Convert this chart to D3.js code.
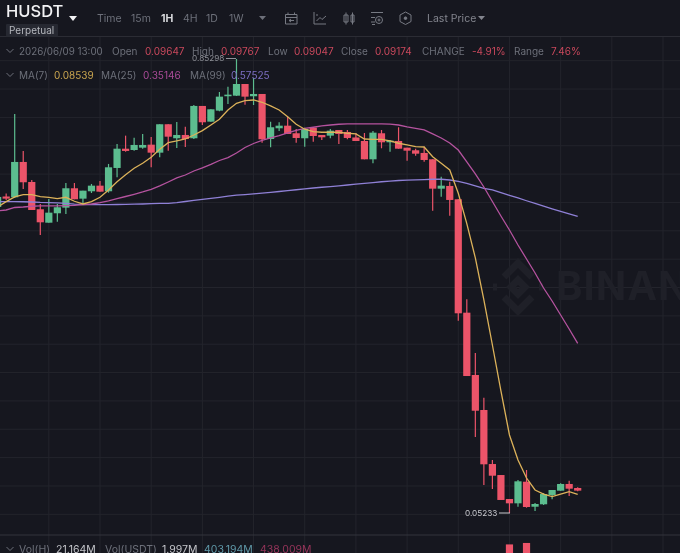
<!DOCTYPE html>
<html>
<head>
<meta charset="utf-8">
<script src="https://cdn.jsdelivr.net/npm/d3@7/dist/d3.min.js"></script>
<style>
html, body { margin: 0; padding: 0; background: #16171f; overflow: hidden; }
svg { display: block; font-family: Inter, "Noto Sans", sans-serif; filter: blur(0.4px); }
</style>
</head>
<body>
<svg id="chart" width="680" height="553"></svg>
<script>
// hourly candles, first two are cut by the left edge
var opens = [.5920,.6105,.6091,.6714,.6361,.5880,.5643,.5809,.5908,.6250,.6067,.6197,.6296,.6197,.6608,.6948,.6925,.6966,.7019,.6878,.7379,.7132,.7190,.7132,.7702,.7425,.7619,.7873,.7883,.8089,.7873,.7913,.7119,.7308,.7354,.7220,.7132,.7319,.7190,.7178,.7278,.7243,.7146,.7084,.6761,.7220,.7061,.7084,.6966,.6920,.6873,.6761,.6243,.6291,.6056,.4056,.2957,.2340,.1387,.1193,.0770,.0694,.1075,.0634,.0677,.0841,.0917,.1035,.09647];
var closes = [.6097,.6067,.6714,.6356,.5867,.5650,.5820,.5915,.6250,.6056,.6208,.6296,.6190,.6620,.6948,.6908,.7014,.7014,.6878,.7379,.7160,.7190,.7119,.7702,.7414,.7643,.7866,.7901,.8089,.7866,.7913,.7114,.7326,.7354,.7208,.7137,.7296,.7172,.7149,.7266,.7208,.7137,.7084,.6761,.7231,.7061,.7090,.6948,.6913,.6860,.6749,.6243,.6296,.6044,.4045,.2939,.2327,.1382,.1181,.0753,.0694,.1082,.0629,.0682,.0858,.0929,.1035,.0952,.09174];
var highs = [.6132,.6158,.7560,.6908,.6396,.5973,.6061,.5973,.6343,.6343,.6208,.6326,.6379,.6679,.7031,.7178,.7142,.7208,.7155,.7379,.7379,.7419,.7336,.7719,.7702,.7643,.7948,.8042,.85298,.8089,.8195,.7913,.7425,.7414,.7513,.7296,.7319,.7319,.7190,.7296,.7278,.7278,.7225,.7225,.7261,.7278,.7102,.7326,.6966,.6948,.6984,.6761,.6455,.6366,.6056,.4292,.3345,.2557,.1458,.1193,.0770,.1105,.1282,.0700,.0876,.0929,.1047,.1093,.09767];
var lows = [.5867,.6044,.6079,.6238,.5867,.5426,.5643,.5661,.5797,.6056,.5973,.6167,.6190,.6172,.6444,.6895,.6913,.6948,.6620,.6797,.6913,.6961,.6978,.7119,.7366,.7425,.7608,.7737,.7878,.7724,.7719,.7054,.6973,.7261,.7208,.7054,.6984,.7072,.7102,.7132,.7031,.7114,.7084,.6761,.6691,.6955,.6895,.6948,.6737,.6825,.6719,.5855,.6102,.5767,.3915,.2939,.1864,.1017,.0947,.0753,.05233,.0634,.0617,.0559,.0665,.0765,.0917,.0823,.09047];

var ma7 = [.5920,.6014,.6097,.6137,.6137,.6102,.6091,.6067,.6091,.6021,.5973,.6014,.6091,.6220,.6366,.6490,.6603,.6691,.6797,.6938,.7054,.7084,.7119,.7190,.7266,.7366,.7467,.7631,.7749,.7795,.7807,.7767,.7702,.7631,.7513,.7379,.7291,.7248,.7238,.7238,.7238,.7220,.7208,.7119,.7114,.7114,.7084,.7044,.7014,.6984,.6978,.6807,.6691,.6573,.6162,.5626,.5021,.4280,.3486,.2675,.1899,.1458,.1140,.0929,.0858,.0811,.0858,.0899,.08539];
var ma25 = [.5850,.5867,.5911,.5920,.5933,.5938,.5938,.5938,.5943,.5950,.5961,.5973,.5996,.6026,.6067,.6105,.6144,.6185,.6232,.6291,.6361,.6432,.6484,.6555,.6608,.6670,.6740,.6790,.6873,.6970,.7040,.7093,.7137,.7178,.7225,.7269,.7305,.7326,.7349,.7366,.7379,.7384,.7384,.7384,.7384,.7384,.7381,.7366,.7331,.7305,.7278,.7208,.7137,.7049,.6925,.6714,.6502,.6273,.6017,.5761,.5514,.5250,.5003,.4756,.4491,.4262,.4015,.3768,.35146];
var ma99 = [.6014,.6014,.6014,.6012,.6008,.6000,.5996,.5991,.5982,.5970,.5964,.5961,.5961,.5961,.5964,.5966,.5970,.5973,.5978,.5985,.5984,.5998,.6017,.6035,.6054,.6072,.6091,.6111,.6130,.6139,.6151,.6165,.6179,.6193,.6208,.6224,.6239,.6255,.6268,.6280,.6294,.6308,.6322,.6336,.6349,.6365,.6375,.6387,.6393,.6398,.6403,.6409,.6409,.6396,.6370,.6335,.6291,.6250,.6220,.6172,.6125,.6079,.6030,.5984,.5936,.5888,.5841,.5797,.57525];

// only two volume bars reach into the visible part of the lower panel
var volIndex = [60, 62];
var volValues = [1150, 1180];

var intervals = ["Time", "15m", "1H", "4H", "1D", "1W"];
var intervalX = [97, 131, 161, 183, 206, 229];

var bg = "#16171f", green = "#5cbd8f", red = "#ec5469", grid = "#23242c", grey = "#6d707a";

var svg = d3.select("#chart");
var xScale = d3.scaleLinear().domain([0, 68]).range([-2.36, 577.7]);
var yScale = d3.scaleLinear().domain([0.05233, 0.85298]).range([513, 59]);
var volScale = d3.scaleLinear().domain([0, 1200]).range([600, 542]);

svg.append("rect").attr("width", 680).attr("height", 553).attr("fill", bg);

// grid
var xTicks = d3.range(6, 84, 6);
var yTicks = d3.range(1, 18).map(d => d * 0.05);
svg.append("g").selectAll("line").data(xTicks).enter().append("line")
    .attr("x1", d => xScale(d)).attr("x2", d => xScale(d))
    .attr("y1", 37).attr("y2", 553)
    .attr("stroke", grid);
svg.append("g").selectAll("line").data(yTicks).enter().append("line")
    .attr("x1", 0).attr("x2", 680)
    .attr("y1", d => yScale(d)).attr("y2", d => yScale(d))
    .attr("stroke", grid);
svg.append("line").attr("x1", 0).attr("x2", 680).attr("y1", 36.5).attr("y2", 36.5).attr("stroke", "#2b2c34");
svg.append("line").attr("x1", 0).attr("x2", 680).attr("y1", 535).attr("y2", 535).attr("stroke", "#33343c");

// watermark
var mark = svg.append("g").attr("transform", "translate(518, 287)").attr("fill", "none").attr("stroke", "#1f2028").attr("stroke-width", 7);
mark.append("path").attr("d", "M-14,-10 L0,-24 L14,-10");
mark.append("path").attr("d", "M-14,10 L0,24 L14,10");
mark.append("path").attr("d", "M-7,0 L0,-7 L7,0 L0,7 Z");
mark.append("path").attr("d", "M-25,0 L-21,0 M21,0 L25,0");
svg.append("text").attr("x", 556).attr("y", 300).text("BINANCE")
    .attr("font-size", "40px").attr("font-weight", 700).attr("fill", "#1f2028").attr("letter-spacing", "1px");

// candles
var candles = d3.range(opens.length);
var colorOf = i => closes[i] >= opens[i] ? green : red;
var plot = svg.append("g");

plot.append("g").selectAll("line").data(candles).enter().append("line")
    .attr("x1", i => xScale(i)).attr("x2", i => xScale(i))
    .attr("y1", i => yScale(highs[i])).attr("y2", i => yScale(lows[i]))
    .attr("stroke", colorOf).attr("stroke-width", 1.2);

plot.append("g").selectAll("rect").data(candles).enter().append("rect")
    .attr("x", i => xScale(i) - 3.6)
    .attr("width", 7.2)
    .attr("y", i => yScale(Math.max(opens[i], closes[i])))
    .attr("height", i => Math.max(1.2, Math.abs(yScale(opens[i]) - yScale(closes[i]))))
    .attr("fill", colorOf);

// moving averages
var line = d3.line().x((d, i) => xScale(i)).y(d => yScale(d));
plot.append("path").datum(ma99).attr("d", line).attr("fill", "none").attr("stroke", "#8f80d6").attr("stroke-width", 1.3);
plot.append("path").datum(ma25).attr("d", line).attr("fill", "none").attr("stroke", "#b5539f").attr("stroke-width", 1.3);
plot.append("path").datum(ma7).attr("d", line).attr("fill", "none").attr("stroke", "#dcb25a").attr("stroke-width", 1.3);

// volume
plot.append("g").selectAll("rect").data(volValues).enter().append("rect")
    .attr("x", (d, i) => xScale(volIndex[i]) - 3.6)
    .attr("width", 7.2)
    .attr("y", d => volScale(d))
    .attr("height", d => 600 - volScale(d))
    .attr("fill", red);

function label(x, y, str, color, size, weight) {
    return svg.append("text").attr("x", x).attr("y", y).text(str)
        .attr("fill", color).attr("font-size", (size || 10.5) + "px").attr("font-weight", weight || 400);
}

// high / low markers
label(192, 61, "0.85298", "#8f9198", 8.2);
svg.append("line").attr("x1", 226).attr("x2", 236).attr("y1", 58.5).attr("y2", 58.5).attr("stroke", "#8f9198");
label(465, 516, "0.05233", "#c9cacf", 8.2);
svg.append("line").attr("x1", 499).attr("x2", 510).attr("y1", 513).attr("y2", 513).attr("stroke", "#c9cacf");

// header
label(6, 17, "HUSDT", "#f2f2f4", 16.5, 500);
svg.append("path").attr("d", "M69,16 L77,16 L73,21 Z").attr("fill", "#f2f2f4");
svg.append("rect").attr("x", 6).attr("y", 24).attr("width", 52).attr("height", 12.5).attr("rx", 1).attr("fill", "#262831");
label(9, 34, "Perpetual", "#b4b6bc", 10);

svg.append("g").selectAll("text").data(intervals).enter().append("text")
    .attr("x", (d, i) => intervalX[i]).attr("y", 21.5).text(d => d)
    .attr("font-size", "10.5px")
    .attr("font-weight", d => d == "1H" ? 700 : 400)
    .attr("fill", d => d == "1H" ? "#d8d9dc" : "#6d707a");
svg.append("path").attr("d", "M259,16 L266,16 L262.5,20 Z").attr("fill", grey);

// toolbar icons
var icons = svg.append("g").attr("fill", "none").attr("stroke", "#777a83").attr("stroke-width", 1);
icons.append("path").attr("d", "M285.5,14.5 H297 V24 H285.5 Z M285.5,17.5 H297 M288,12.5 V15 M294.5,12.5 V15 M294,20.5 H289 M291,19 L289,20.5 L291,22");
icons.append("path").attr("d", "M314,12 V24 H326 M316.5,21 L320,17.5 L322,19.5 L326,16 M316,15 L318,15");
icons.append("path").attr("d", "M345,15 H349 V22 H345 Z M347,12.5 V24.5 M352,15 H355 V22 H352 Z M353.5,12.5 V24.5").attr("transform", "translate(-1,0)");
icons.append("path").attr("d", "M371,12.5 H383 M371,17.5 H375 M371,22 H375 M372,24.5 H375");
icons.append("circle").attr("cx", 379).attr("cy", 20).attr("r", 3.5);
icons.append("circle").attr("cx", 379).attr("cy", 20).attr("r", 1);
icons.append("path").attr("d", "M405.5,12 L411,15 V21.5 L405.5,24.5 L400,21.5 V15 Z");
icons.append("circle").attr("cx", 405.5).attr("cy", 18.2).attr("r", 1.3).attr("fill", "#777a83");
label(427, 21.5, "Last Price", "#83858e", 10.5);
svg.append("path").attr("d", "M478,16 L485,16 L481.5,20 Z").attr("fill", "#83858e");

// legend rows
function chevron(y) {
    svg.append("path").attr("d", "M6.5," + (y - 2) + " L10,"+ (y + 1.5) + " L13.5," + (y - 2))
        .attr("fill", "none").attr("stroke", grey);
}
var valueRed = "#c9485c";
chevron(51);
label(19, 55, "2026/06/09 13:00", grey, 9.8);
label(112, 55, "Open", grey, 10);
label(145, 55, "0.09647", valueRed, 10);
label(192, 55, "High", grey, 10);
label(221, 55, "0.09767", valueRed, 10);
label(268, 55, "Low", grey, 10);
label(294, 55, "0.09047", valueRed, 10);
label(341, 55, "Close", grey, 10);
label(375, 55, "0.09174", valueRed, 10);
label(422, 55, "CHANGE", grey, 10);
label(472, 55, "-4.91%", valueRed, 10);
label(514, 55, "Range", grey, 10);
label(551, 55, "7.46%", valueRed, 10);

chevron(75);
label(19, 79, "MA(7)", grey, 10);
label(54, 79, "0.08539", "#c9a54f", 10);
label(101, 79, "MA(25)", grey, 10);
label(143, 79, "0.35146", "#a94b97", 10);
label(190, 79, "MA(99)", grey, 10);
label(231, 79, "0.57525", "#7d6fc4", 10);

chevron(549);
label(19, 553, "Vol(H)", grey);
label(56, 553, "21.164M", "#c4c5ca");
label(105, 553, "Vol(USDT)", grey);
label(162, 553, "1.997M", "#c4c5ca");
label(204, 553, "403.194M", "#5f98a8");
label(260, 553, "438.009M", "#96345a");
</script>
</body>
</html>
